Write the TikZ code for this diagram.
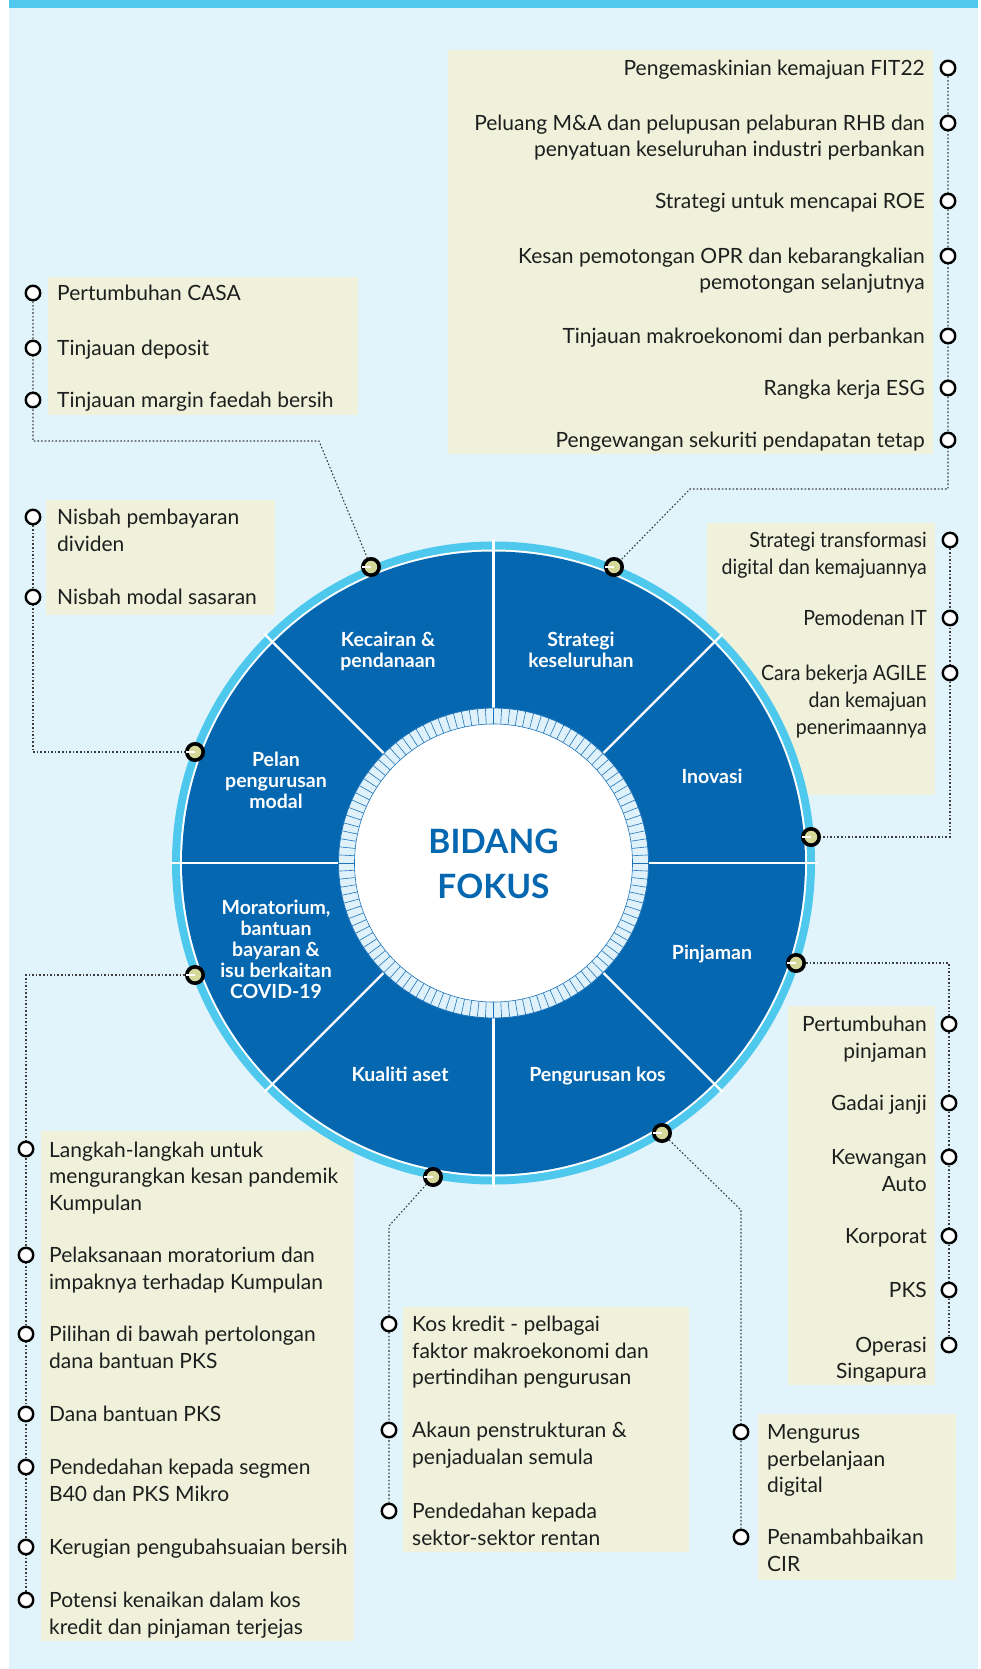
\documentclass[tikz,border=0pt]{standalone}
\usepackage{fontspec}
\setmainfont{Lato}
\newfontfamily\condlato[FakeStretch=0.93]{Lato}
\pgfdeclarelayer{bg}
\pgfdeclarelayer{lines}
\pgfsetlayers{bg,lines,main}
\definecolor{bgc}{RGB}{226,244,251}
\definecolor{cyanc}{RGB}{79,200,238}
\definecolor{bluec}{RGB}{4,103,176}
\definecolor{beige}{RGB}{239,241,218}
\definecolor{dotc}{RGB}{214,216,154}
\definecolor{txt}{RGB}{30,30,30}
\definecolor{hatch}{RGB}{223,242,251}
\definecolor{tickc}{RGB}{30,115,185}
\definecolor{connc}{RGB}{60,60,60}
\tikzset{
 itemr/.style={anchor=base east, align=right, inner sep=0, text=txt, font=\fontsize{21}{26.5}\selectfont},
 iteml/.style={anchor=base west, align=left, inner sep=0, text=txt, font=\fontsize{21}{26.5}\selectfont},
 itemc/.style={anchor=base east, align=right, inner sep=0, text=txt, font=\condlato\fontsize{21}{27}\selectfont},
 sect/.style={anchor=base, align=center, inner sep=0, text=white, font=\bfseries\fontsize{19.5}{21}\selectfont},
 bul/.style={circle, draw=black, fill=white, line width=2.4pt, minimum size=14.5pt, inner sep=0},
 rdot/.style={circle, draw=black, fill=dotc, line width=3.6pt, minimum size=16.4pt, inner sep=0},
 connline/.style={draw=connc, line width=1.1pt, dash pattern=on 1.6pt off 2pt},
 pinline/.style={draw=white, line width=1.2pt},
}
\begin{document}
\begin{tikzpicture}[x=1pt,y=-1pt]
\useasboundingbox (0,0) rectangle (981,1669);
\begin{pgfonlayer}{bg}
\fill[white] (0,0) rectangle (981,1669);
\fill[bgc] (9,0) rectangle (978,1669);
\fill[cyanc] (9,0.5) rectangle (978,8.5);
% boxes
\fill[beige] (448,50) rectangle (933,454);
\fill[beige] (48,277) rectangle (358,415);
\fill[beige] (46,500) rectangle (275,615);
\fill[beige] (707,523) rectangle (935,795);
\fill[beige] (788,1006) rectangle (935,1385);
\fill[beige] (41,1131) rectangle (354,1641);
\fill[beige] (403,1307) rectangle (689,1552);
\fill[beige] (758,1414) rectangle (956,1580);
% wheel
\begin{scope}[shift={(493.5,863)}]
\fill[cyanc] (0,0) circle (321.5);
\fill[white] (0,0) circle (313.5);
\fill[bluec] (0,0) circle (311.5);
\foreach \a in {0,45,...,315} \draw[white, line width=2.2pt] (0,0) -- (\a:324);
\fill[hatch] (0,0) circle (155);
\foreach \a in {0,3,...,357} \draw[tickc, line width=0.6pt] (\a:139) -- (\a:155);
\draw[tickc, line width=0.8pt] (0,0) circle (155);
\fill[white] (0,0) circle (139);
\draw[tickc, line width=0.6pt] (0,0) circle (139);
\end{scope}
\end{pgfonlayer}

% centre title
\node[anchor=base, align=center, inner sep=0, text=bluec, font=\bfseries\fontsize{33.5}{45}\selectfont] (title) at (493.5,898.5) {BIDANG\\FOKUS};

% sector labels (base = last line)
\node[sect] (sK) at (388,667.5) {Kecairan \&\\pendanaan};
\node[sect] (sS) at (581,667.5) {Strategi\\keseluruhan};
\node[sect] (sI) at (712,783) {Inovasi};
\node[sect] (sPj) at (712,959.5) {Pinjaman};
\node[sect] (sPk) at (597.5,1081.5) {Pengurusan kos};
\node[sect] (sKa) at (400,1081.5) {Kualiti aset};
\node[sect] (sM) at (276,998.5) {Moratorium,\\bantuan\\bayaran \&\\isu berkaitan\\COVID-19};
\node[sect] (sP) at (276,808.5) {Pelan\\pengurusan\\modal};

% ring dots
\node[rdot] (dK) at (371,567) {};
\node[rdot] (dS) at (614,567) {};
\node[rdot] (dP) at (195,752) {};
\node[rdot] (dI) at (811,837) {};
\node[rdot] (dM) at (195,975) {};
\node[rdot] (dPj) at (796,963) {};
\node[rdot] (dPk) at (662,1133) {};
\node[rdot] (dKa) at (433,1177) {};
\foreach \d in {dK,dS,dP,dI,dM,dPj,dPk,dKa} \draw[pinline] (\d.center) -- ++(-9,0);

% Box A
\node[itemr] (tA1) at (925,75.5) {Pengemaskinian kemajuan FIT22};
\node[itemr] (tA2) at (925,157) {Peluang M\&A dan pelupusan pelaburan RHB dan\\penyatuan keseluruhan industri perbankan};
\node[itemr] (tA3) at (925,208.5) {Strategi untuk mencapai ROE};
\node[itemr] (tA4) at (925,290) {Kesan pemotongan OPR dan kebarangkalian\\pemotongan selanjutnya};
\node[itemr] (tA5) at (925,343.5) {Tinjauan makroekonomi dan perbankan};
\node[itemr] (tA6) at (925,395.5) {Rangka kerja ESG};
\node[itemr] (tA7) at (925,447.5) {Pengewangan sekuriti pendapatan tetap};
\node[bul] (bA1) at (948,68) {};
\node[bul] (bA2) at (948,123) {};
\node[bul] (bA3) at (948,201) {};
\node[bul] (bA4) at (948,256) {};
\node[bul] (bA5) at (948,336) {};
\node[bul] (bA6) at (948,388) {};
\node[bul] (bA7) at (948,440) {};

% Box B
\node[iteml] (tB1) at (57,300.5) {Pertumbuhan CASA};
\node[iteml] (tB2) at (57,355.5) {Tinjauan deposit};
\node[iteml] (tB3) at (57,407.5) {Tinjauan margin faedah bersih};
\node[bul] (bB1) at (33,293) {};
\node[bul] (bB2) at (33,348) {};
\node[bul] (bB3) at (33,400) {};

% Box C
\node[iteml] (tC1) at (57,551) {Nisbah pembayaran\\dividen};
\node[iteml] (tC2) at (57,604.5) {Nisbah modal sasaran};
\node[bul] (bC1) at (33,517) {};
\node[bul] (bC2) at (33,597) {};

% Box D
\node[itemc] (tD1) at (927,574.5) {Strategi transformasi\\digital dan kemajuannya};
\node[itemc] (tD2) at (927,625.5) {Pemodenan IT};
\node[itemc] (tD3) at (927,734.5) {Cara bekerja AGILE\\dan kemajuan\\penerimaannya};
\node[bul] (bD1) at (950,540) {};
\node[bul] (bD2) at (950,618) {};
\node[bul] (bD3) at (950,673) {};

% Box E
\node[itemr] (tE1) at (927,1058) {Pertumbuhan\\pinjaman};
\node[itemr] (tE2) at (927,1110.5) {Gadai janji};
\node[itemr] (tE3) at (927,1191) {Kewangan\\Auto};
\node[itemr] (tE4) at (927,1243.5) {Korporat};
\node[itemr] (tE5) at (927,1297.5) {PKS};
\node[itemr] (tE6) at (927,1378.5) {Operasi\\Singapura};
\node[bul] (bE1) at (949,1024) {};
\node[bul] (bE2) at (949,1103) {};
\node[bul] (bE3) at (949,1157) {};
\node[bul] (bE4) at (949,1236) {};
\node[bul] (bE5) at (949,1290) {};
\node[bul] (bE6) at (949,1345) {};

% Box F
\node[iteml] (tF1) at (49,1210) {Langkah-langkah untuk\\mengurangkan kesan pandemik\\Kumpulan};
\node[iteml] (tF2) at (49,1289) {Pelaksanaan moratorium dan\\impaknya terhadap Kumpulan};
\node[iteml] (tF3) at (49,1368) {Pilihan di bawah pertolongan\\dana bantuan PKS};
\node[iteml] (tF4) at (49,1421.5) {Dana bantuan PKS};
\node[iteml] (tF5) at (49,1501) {Pendedahan kepada segmen\\B40 dan PKS Mikro};
\node[iteml] (tF6) at (49,1554.5) {Kerugian pengubahsuaian bersih};
\node[iteml] (tF7) at (49,1634) {Potensi kenaikan dalam kos\\kredit dan pinjaman terjejas};
\node[bul] (bF1) at (26,1149) {};
\node[bul] (bF2) at (26,1255) {};
\node[bul] (bF3) at (26,1334) {};
\node[bul] (bF4) at (26,1414) {};
\node[bul] (bF5) at (26,1467) {};
\node[bul] (bF6) at (26,1547) {};
\node[bul] (bF7) at (26,1600) {};

% Box G
\node[iteml] (tG1) at (412,1384.5) {Kos kredit - pelbagai\\faktor makroekonomi dan\\pertindihan pengurusan};
\node[iteml] (tG2) at (412,1464) {Akaun penstrukturan \&\\penjadualan semula};
\node[iteml] (tG3) at (412,1545) {Pendedahan kepada\\sektor-sektor rentan};
\node[bul] (bG1) at (389,1324) {};
\node[bul] (bG2) at (389,1430) {};
\node[bul] (bG3) at (389,1511) {};

% Box H
\node[iteml] (tH1) at (767,1492.5) {Mengurus\\perbelanjaan\\digital};
\node[iteml] (tH2) at (767,1571) {Penambahbaikan\\CIR};
\node[bul] (bH1) at (741,1432) {};
\node[bul] (bH2) at (741,1537) {};

% connectors
\begin{pgfonlayer}{lines}
\coordinate (cA1) at (948,489);
\coordinate (cA2) at (690,489);
\draw[connline] (bA1) -- (cA1) -- (cA2) -- (dS);
\coordinate (cB1) at (33,441);
\coordinate (cB2) at (319,441);
\draw[connline] (bB1) -- (cB1) -- (cB2) -- (dK);
\coordinate (cC1) at (33,752);
\draw[connline] (bC1) -- (cC1) -- (dP);
\coordinate (cD1) at (950,837);
\draw[connline] (bD1) -- (cD1) -- (dI);
\coordinate (cE1) at (949,963);
\draw[connline] (dPj) -- (cE1) -- (bE6);
\coordinate (cF1) at (26,975);
\draw[connline] (dM) -- (cF1) -- (bF7);
\coordinate (cG1) at (389,1226);
\draw[connline] (dKa) -- (cG1) -- (bG3);
\coordinate (cH1) at (741,1210);
\draw[connline] (dPk) -- (cH1) -- (bH2);
\end{pgfonlayer}
\end{tikzpicture}
\end{document}
